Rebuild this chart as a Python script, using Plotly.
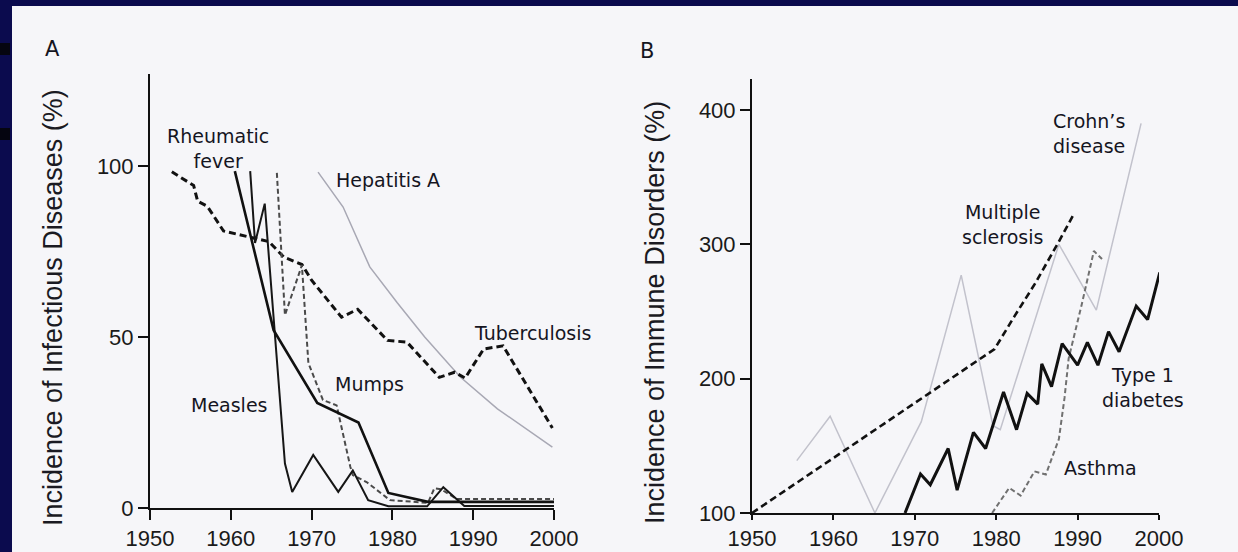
import plotly.graph_objects as go

W, H = 1238, 552

# ---- panel A: infectious diseases (% of peak incidence) ----
tb_year = [1952.7, 1955.4, 1955.9, 1957.1, 1959.1, 1960.8, 1962.7, 1964.7, 1966.6, 1968.8,
           1970.0, 1973.7, 1975.7, 1979.4, 1981.8, 1985.8, 1987.7, 1989.0, 1991.3, 1993.7, 1999.8]
tb_val = [98.3, 94.3, 89.7, 88.2, 81.0, 80.0, 79.0, 77.9, 73.3, 71.2,
          66.6, 55.8, 58.1, 49.0, 48.5, 38.2, 39.7, 38.0, 46.5, 47.4, 23.4]

hep_year = [1970.8, 1973.9, 1977.2, 1980.6, 1984.0, 1988.4, 1993.0, 1999.8]
hep_val = [98.2, 88.0, 70.5, 60.0, 50.0, 38.3, 29.0, 17.8]

rheum_year = [1960.5, 1965.3, 1970.7, 1973.1, 1975.8, 1979.5, 1984.4, 2000.0]
rheum_val = [98.5, 52.0, 30.7, 28.0, 25.0, 4.4, 1.8, 1.8]

measles_year = [1962.4, 1963.0, 1964.2, 1966.7, 1967.6, 1970.2, 1973.3, 1975.1,
                1977.0, 1979.5, 1984.3, 1986.3, 1988.9, 2000.0]
measles_val = [98.5, 77.5, 89.0, 13.0, 4.7, 15.5, 4.7, 11.0,
               2.3, 0.5, 0.5, 6.1, 0.6, 0.6]

mumps_year = [1965.7, 1966.7, 1968.8, 1969.6, 1971.4, 1973.1, 1974.8, 1975.1,
              1976.8, 1979.7, 1984.4, 1985.2, 1986.0, 1988.0, 2000.0]
mumps_val = [98.0, 56.4, 71.0, 42.4, 31.6, 30.0, 12.0, 9.6,
             7.6, 2.3, 1.5, 5.8, 5.5, 2.6, 2.6]

# ---- panel B: immune disorders (% of 1950 level) ----
ms_year = [1950.0, 1979.8, 1982.2, 1984.8, 1987.7, 1989.4]
ms_val = [100, 222, 246, 271, 302, 321]

t1d_year = [1968.8, 1970.7, 1971.9, 1974.1, 1975.2, 1977.2, 1978.7, 1980.9, 1982.5, 1983.8,
            1985.1, 1985.6, 1986.8, 1988.1, 1990.0, 1991.2, 1992.5, 1993.8, 1995.1, 1997.2,
            1998.6, 2000.1]
t1d_val = [100, 129, 121, 148, 117, 160, 148, 190, 162, 189,
           181, 211, 194, 226, 210, 227, 210, 235, 220, 254,
           244, 279]

asthma_year = [1979.5, 1981.6, 1983.0, 1984.7, 1986.1, 1987.7, 1988.4, 1988.9, 1990.5, 1992.0, 1993.0]
asthma_val = [100, 118.7, 113, 131, 128.6, 155, 186, 215, 255, 295, 289]

crohn_year = [1955.5, 1959.6, 1965.1, 1970.8, 1975.7, 1979.6, 1980.5, 1987.7, 1992.3, 1997.8]
crohn_val = [139, 172, 100, 168, 277, 165, 162, 300, 251, 390]

x_ticks = [1950, 1960, 1970, 1980, 1990, 2000]
a_ticks = [0, 50, 100]
b_ticks = [100, 200, 300, 400]


def px(x, y):
    # pixel position -> paper fraction
    return x / W, 1 - y / H


fig = go.Figure()


def add_line(x, y, xa, ya, color, width, dash="solid"):
    fig.add_trace(go.Scatter(x=x, y=y, xaxis=xa, yaxis=ya, mode="lines",
                             line=dict(color=color, width=width, dash=dash),
                             hoverinfo="skip", showlegend=False))


# panel A
add_line(hep_year, hep_val, "x", "y", "#a8a8b4", 1.5)
add_line(tb_year, tb_val, "x", "y", "#111111", 3, "7px,4px")
add_line(mumps_year, mumps_val, "x", "y", "#4a4a4a", 2, "5px,3px")
add_line(measles_year, measles_val, "x", "y", "#161616", 2)
add_line(rheum_year, rheum_val, "x", "y", "#111111", 2.6)

# panel B
add_line(crohn_year, crohn_val, "x2", "y2", "#c2c2cc", 1.5)
add_line(asthma_year, asthma_val, "x2", "y2", "#707070", 2, "5px,3px")
add_line(ms_year, ms_val, "x2", "y2", "#111111", 2.6, "7px,4px")
add_line(t1d_year, t1d_val, "x2", "y2", "#111111", 3)

axis_style = dict(showline=True, linecolor="#111111", linewidth=2, ticks="outside",
                  ticklen=10, tickwidth=2, tickcolor="#111111", showgrid=False,
                  zeroline=False, fixedrange=True, automargin=False,
                  tickfont=dict(family="Liberation Sans, Arial", size=22, color="#1a1a1a"))

fig.update_layout(
    template="none",
    width=W, height=H,
    margin=dict(l=0, r=0, t=0, b=0, pad=0),
    paper_bgcolor="#0b0b4e",
    plot_bgcolor="rgba(0,0,0,0)",
    xaxis=dict(domain=[150 / W, 554 / W], range=[1950, 2000], tickvals=x_ticks,
               anchor="y", **axis_style),
    yaxis=dict(domain=[(H - 508) / H, (H - 74) / H], range=[0, 126.9], tickvals=a_ticks,
               anchor="x", **axis_style),
    xaxis2=dict(domain=[752 / W, 1159 / W], range=[1950, 2000], tickvals=x_ticks,
                anchor="y2", **axis_style),
    yaxis2=dict(domain=[(H - 513) / H, (H - 79) / H], range=[100, 423], tickvals=b_ticks,
                anchor="x2", **axis_style),
)
# panel B sits lower, so its year ticks are shorter to keep the labels on the page
fig.update_xaxes(ticklen=5, selector=dict(anchor="y2"))

# paper sheet inside the dark slide border
fig.add_shape(type="rect", xref="paper", yref="paper", x0=12 / W, x1=1, y0=0, y1=1 - 6 / H,
              fillcolor="#f6f6f9", line=dict(width=0), layer="below")
for y0, y1 in [(43, 55), (128, 140)]:
    fig.add_shape(type="rect", xref="paper", yref="paper", x0=0, x1=10 / W,
                  y0=1 - y1 / H, y1=1 - y0 / H, fillcolor="#050510", line=dict(width=0),
                  layer="below")


def note(text, x, y, font, angle=0):
    ax, ay = px(x, y)
    fig.add_annotation(text=text, x=ax, y=ay, xref="paper", yref="paper",
                       xanchor="center", yanchor="middle", showarrow=False,
                       font=font, align="center", textangle=angle)


label_font = dict(family="DejaVu Sans", size=19, color="#15151f")
labels = [
    ("Rheumatic<br>fever", 218, 148),
    ("Hepatitis A", 388, 180),
    ("Tuberculosis", 532, 333),
    ("Mumps", 369, 384),
    ("Measles", 230, 405),
    ("Crohn\u2019s<br>disease", 1089, 134),
    ("Multiple<br>sclerosis", 1002, 225),
    ("Type 1<br>diabetes", 1143, 387),
    ("Asthma", 1100, 468),
]
for text, x, y in labels:
    note(text, x, y, label_font)

panel_font = dict(family="DejaVu Sans", size=21, color="#15151f")
note("A", 52, 49, panel_font)
note("B", 647, 51, panel_font)

title_font = dict(family="Liberation Sans, Arial", size=27, color="#1a1a22")
note("Incidence of Infectious Diseases (%)", 53, 308, title_font, -90)
note("Incidence of Immune Disorders (%)", 655, 313, title_font, -90)

# drop the browser's default body margin so the figure sits at the window corner
fig.write_html("out.html", config={"displayModeBar": False},
               post_script="document.body.style.margin='0';")
